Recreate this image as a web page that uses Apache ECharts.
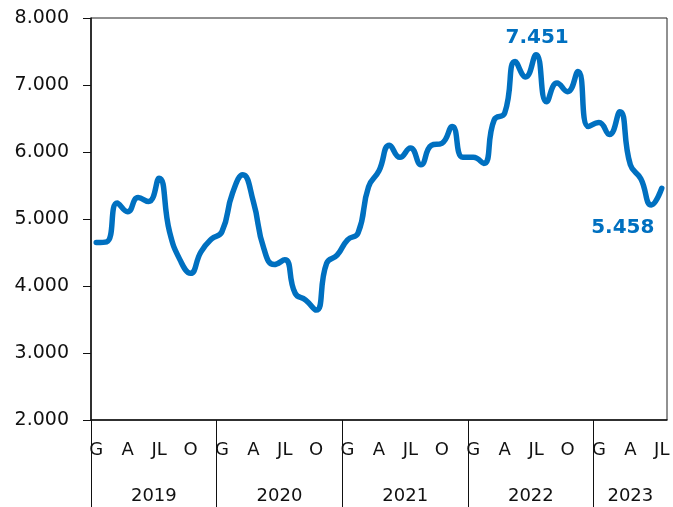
<!DOCTYPE html>
<html>
<head>
<meta charset="utf-8">
<script src="https://cdn.jsdelivr.net/npm/echarts@6/dist/echarts.min.js"></script>
<style>
  html, body { margin: 0; padding: 0; background: #fff; }
  #chart { width: 673px; height: 507px; }
</style>
</head>
<body>
<div id="chart"></div>
<script>
// Monthly values, January 2019 - July 2023
const years = ['2019', '2020', '2021', '2022', '2023'];
const values2019 = [4650, 4660, 5240, 5110, 5320, 5260, 5610, 4810, 4390, 4190, 4510, 4700];
const values2020 = [4810, 5380, 5660, 5260, 4560, 4320, 4390, 3890, 3790, 3640, 4340, 4460];
const values2021 = [4690, 4790, 5480, 5720, 6100, 5920, 6060, 5810, 6100, 6130, 6380, 5920];
const values2022 = [5920, 5830, 6480, 6580, 7350, 7120, 7451, 6750, 7030, 6900, 7200, 6380];
const values2023 = [6440, 6260, 6600, 5810, 5600, 5210, 5458];

// Month initials shown on the axis (Gennaio, Aprile, Luglio, Ottobre)
const monthInitials = { 0: 'G', 3: 'A', 6: 'JL', 9: 'O' };
// Year separators (month index) and year label positions (centre of each span)
const yearStarts = [0, 12, 24, 36, 48];
const yearCentres = [6, 18, 30, 42, 51.5];
// Points whose value is written next to the line
const labelledPeak = 42;
const labelledLast = 54;

const allValues = [].concat(values2019, values2020, values2021, values2022, values2023);
const categories = allValues.map((_, i) => years[Math.floor(i / 12)] + '-' + (i % 12 + 1));

const BLUE = '#0070C0';
const FONT = 'DejaVu Sans';
const fmt = v => String(v).replace(/\B(?=(\d{3})+(?!\d))/g, '.');

const valueLabel = {
  show: true,
  formatter: p => fmt(p.value),
  color: BLUE, fontFamily: FONT, fontWeight: 'bold', fontSize: 20
};

const seriesData = allValues.map((v, i) => {
  if (i === labelledPeak) {
    return { value: v, label: Object.assign({ position: 'top', distance: 6, offset: [1, 0] }, valueLabel) };
  }
  if (i === labelledLast) {
    return { value: v, label: Object.assign({ position: 'bottom', distance: 5, offset: [-39, 24] }, valueLabel) };
  }
  return v;
});

const chart = echarts.init(document.getElementById('chart'), null, { renderer: 'canvas' });
chart.setOption({
  animation: false,
  backgroundColor: '#fff',
  grid: {
    left: 91, right: 6, top: 18, bottom: 87,
    show: true, borderColor: '#222', borderWidth: 1, backgroundColor: 'transparent'
  },
  xAxis: [
    {
      type: 'category',
      data: categories,
      boundaryGap: true,
      position: 'bottom',
      axisLine: { show: true, lineStyle: { color: '#111', width: 1.5 } },
      axisTick: { show: false },
      axisLabel: {
        interval: (index) => (index % 12) in monthInitials,
        formatter: (value, index) => monthInitials[index % 12] || '',
        color: '#111', fontFamily: FONT, fontSize: 18, margin: 21
      },
      splitLine: { show: false }
    },
    {
      type: 'value',
      min: 0, max: allValues.length,
      position: 'bottom',
      offset: 0,
      axisLine: { show: false },
      axisTick: {
        show: true, customValues: yearStarts, length: 90, inside: false,
        lineStyle: { color: '#111', width: 1 }
      },
      axisLabel: {
        customValues: yearCentres,
        formatter: v => years[Math.floor(v / 12)],
        color: '#111', fontFamily: FONT, fontSize: 18, margin: 67
      },
      splitLine: { show: false }
    }
  ],
  yAxis: {
    type: 'value',
    min: 2000, max: 8000, interval: 1000,
    axisLine: { show: true, lineStyle: { color: '#111', width: 1.5 } },
    axisTick: { show: true, length: 8, lineStyle: { color: '#111' } },
    axisLabel: {
      formatter: fmt, color: '#111', fontFamily: FONT, fontSize: 19, margin: 22
    },
    splitLine: { show: false }
  },
  series: [{
    type: 'line',
    xAxisIndex: 0,
    data: seriesData,
    smooth: 0.5,
    showSymbol: true,
    symbol: 'circle',
    symbolSize: 1,
    lineStyle: { color: BLUE, width: 5.5, cap: 'round', join: 'round' },
    itemStyle: { color: 'rgba(0,0,0,0)', borderWidth: 0 },
    emphasis: { disabled: true }
  }]
});
</script>
</body>
</html>
